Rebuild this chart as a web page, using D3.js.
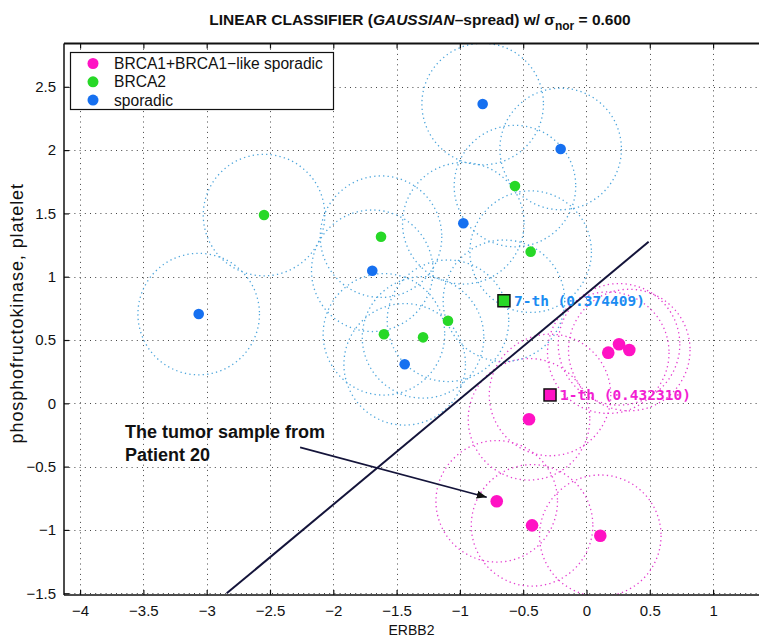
<!DOCTYPE html>
<html>
<head>
<meta charset="utf-8">
<script src="https://cdn.jsdelivr.net/npm/d3@7"></script>
<style>
  body { margin: 0; background: #fff; }
  svg { display: block; font-family: "Liberation Sans", Arial, Helvetica, sans-serif; }
</style>
</head>
<body>
<svg id="chart" width="759" height="637"></svg>
<script>
// BRCA1 + BRCA1-like sporadic tumours (ERBB2, phosphofructokinase platelet)
const brca1X = [0.172, 0.257, 0.338, -0.454, -0.709, -0.430, 0.109];
const brca1Y = [0.400, 0.466, 0.421, -0.126, -0.774, -0.964, -1.046];
// BRCA2 tumours
const brca2X = [-2.547, -1.623, -0.565, -0.441, -1.094, -1.291, -1.600];
const brca2Y = [1.487, 1.316, 1.716, 1.198, 0.652, 0.521, 0.545];
// sporadic tumours
const sporX = [-3.063, -0.820, -0.204, -0.973, -1.692, -1.436];
const sporY = [0.705, 2.364, 2.009, 1.422, 1.047, 0.308];

// ranked neighbours of the test sample, with their weights
const nbLabels = ["7-th (0.374409)", "1-th (0.432310)"];
const nbX = [-0.652, -0.288];
const nbY = [0.810, 0.066];
const nbClass = ["BRCA2", "BRCA1"];

// decision boundary of the linear classifier
const boundaryX = [-2.842, 0.491];
const boundaryY = [-1.501, 1.276];

// gaussian spread drawn round each sample (data units)
const spreadRadius = 0.48;

// annotation: the test tumour
const noteLines = ["The tumor sample from", "Patient 20"];
const noteX = -3.646, noteY = -0.276;
const arrowFrom = [-2.262, -0.348];
const arrowTo = [-0.788, -0.742];

// axes
const xTicks = [-4, -3.5, -3, -2.5, -2, -1.5, -1, -0.5, 0, 0.5, 1];
const yTicks = [-1.5, -1, -0.5, 0, 0.5, 1, 1.5, 2, 2.5];
const xDomain = [-4.127, 1.3626];
const yDomain = [-1.514, 2.842];
const legendLabels = ["BRCA1+BRCA1\u2212like sporadic", "BRCA2", "sporadic"];
const classes = ["BRCA1", "BRCA2", "sporadic"];

const colors = { BRCA1: "#ff12c4", BRCA2: "#27d827", sporadic: "#1670f0" };
const spreadColors = { BRCA1: "#e43ccf", other: "#4ea6dc" };
const labelColors = { BRCA1: "#f21ed2", BRCA2: "#1b8cf2" };

const plot = { left: 64, right: 759, top: 43.5, bottom: 595 };

const svg = d3.select("#chart");
const x = d3.scaleLinear().domain(xDomain).range([plot.left, plot.right]);
const y = d3.scaleLinear().domain(yDomain).range([plot.bottom, plot.top]);
const rPx = x(spreadRadius) - x(0);

svg.append("defs").append("clipPath").attr("id", "clip")
  .append("rect")
  .attr("x", plot.left).attr("y", plot.top)
  .attr("width", plot.right - plot.left + 5).attr("height", plot.bottom - plot.top);

// dotted grid
const grid = svg.append("g").attr("stroke", "#444").attr("stroke-width", 1)
  .attr("stroke-dasharray", "1 4.2");
grid.selectAll("line.gx").data(xTicks).join("line").attr("class", "gx")
  .attr("x1", d => Math.round(x(d)) + 0.5).attr("x2", d => Math.round(x(d)) + 0.5)
  .attr("y1", plot.top).attr("y2", plot.bottom);
grid.selectAll("line.gy").data(yTicks).join("line").attr("class", "gy")
  .attr("y1", d => Math.round(y(d)) + 0.5).attr("y2", d => Math.round(y(d)) + 0.5)
  .attr("x1", plot.left).attr("x2", plot.right);

// all samples
const samples = [];
brca1X.forEach((v, i) => samples.push({ cls: "BRCA1", x: v, y: brca1Y[i] }));
brca2X.forEach((v, i) => samples.push({ cls: "BRCA2", x: v, y: brca2Y[i] }));
sporX.forEach((v, i) => samples.push({ cls: "sporadic", x: v, y: sporY[i] }));
const neighbours = nbX.map((v, i) => ({ cls: nbClass[i], x: v, y: nbY[i], label: nbLabels[i] }));

// spread circles
const body = svg.append("g").attr("clip-path", "url(#clip)");
body.selectAll("circle.spread").data(samples.concat(neighbours)).join("circle")
  .attr("class", "spread")
  .attr("cx", d => x(d.x)).attr("cy", d => y(d.y)).attr("r", rPx)
  .attr("fill", "none")
  .attr("stroke", d => d.cls === "BRCA1" ? spreadColors.BRCA1 : spreadColors.other)
  .attr("stroke-width", 1.3)
  .attr("stroke-dasharray", "1.3 3.2");

// decision boundary
body.append("line")
  .attr("x1", x(boundaryX[0])).attr("y1", y(boundaryY[0]))
  .attr("x2", x(boundaryX[1])).attr("y2", y(boundaryY[1]))
  .attr("stroke", "#14143a").attr("stroke-width", 2);

// sample markers
body.selectAll("circle.pt").data(samples).join("circle")
  .attr("class", "pt")
  .attr("cx", d => x(d.x)).attr("cy", d => y(d.y))
  .attr("r", d => d.cls === "BRCA1" ? 6.3 : 5.3)
  .attr("fill", d => colors[d.cls]);

// highlighted neighbours
const nb = svg.append("g");
nb.selectAll("rect").data(neighbours).join("rect")
  .attr("x", d => x(d.x) - 6).attr("y", d => y(d.y) - 6)
  .attr("width", 12).attr("height", 12)
  .attr("fill", d => colors[d.cls]).attr("stroke", "#111").attr("stroke-width", 1.5);
nb.selectAll("text").data(neighbours).join("text")
  .attr("x", d => x(d.x) + 10).attr("y", d => y(d.y) + 5.5)
  .attr("font-family", "'DejaVu Sans Mono', monospace")
  .attr("font-weight", "bold").attr("font-size", 14.5)
  .attr("fill", d => labelColors[d.cls])
  .text(d => d.label);

// annotation with arrow
svg.append("defs").append("marker").attr("id", "head")
  .attr("viewBox", "0 0 10 10").attr("refX", 10).attr("refY", 5)
  .attr("markerWidth", 10).attr("markerHeight", 10).attr("markerUnits", "userSpaceOnUse")
  .attr("orient", "auto")
  .append("path").attr("d", "M0,1 L10,5 L0,9 Z").attr("fill", "#111");
svg.append("line")
  .attr("x1", x(arrowFrom[0])).attr("y1", y(arrowFrom[1]))
  .attr("x2", x(arrowTo[0])).attr("y2", y(arrowTo[1]))
  .attr("stroke", "#14143a").attr("stroke-width", 1.6)
  .attr("marker-end", "url(#head)");
svg.append("text")
  .attr("x", x(noteX)).attr("y", y(noteY))
  .attr("font-weight", "bold").attr("font-size", 18).attr("fill", "#111")
  .selectAll("tspan").data(noteLines).join("tspan")
  .attr("x", x(noteX)).attr("dy", (d, i) => i === 0 ? 0 : 22.5)
  .text(d => d);

// axes (ticks point inward)
const fmt = d3.format("~g");
const gx = svg.append("g").attr("transform", `translate(0,${plot.bottom})`)
  .call(d3.axisBottom(x).tickValues(xTicks).tickFormat(fmt).tickSize(-5).tickSizeOuter(0).tickPadding(10));
const gxTop = svg.append("g").attr("transform", `translate(0,${plot.top})`)
  .call(d3.axisTop(x).tickValues(xTicks).tickFormat("").tickSize(-5).tickSizeOuter(0));
const gy = svg.append("g").attr("transform", `translate(${plot.left},0)`)
  .call(d3.axisLeft(y).tickValues(yTicks).tickFormat(fmt).tickSize(-5).tickSizeOuter(0).tickPadding(8));
[gx, gxTop, gy].forEach(g => {
  g.select(".domain").remove();
  g.selectAll("line").attr("stroke", "#111").attr("stroke-width", 1.2);
  g.selectAll("text").attr("font-size", 15).attr("fill", "#111")
    .attr("font-family", "'Liberation Sans', Arial, sans-serif");
});

// frame
const frame = svg.append("g").attr("stroke", "#111");
frame.append("line").attr("x1", plot.left).attr("x2", plot.right + 1)
  .attr("y1", plot.top).attr("y2", plot.top).attr("stroke-width", 2);
frame.append("line").attr("x1", plot.left).attr("x2", plot.right + 1)
  .attr("y1", plot.bottom).attr("y2", plot.bottom).attr("stroke-width", 1.5);
frame.append("line").attr("x1", plot.left).attr("x2", plot.left)
  .attr("y1", plot.top).attr("y2", plot.bottom).attr("stroke-width", 1.5);

// axis labels
svg.append("text")
  .attr("x", (plot.left + plot.right) / 2).attr("y", 634.5)
  .attr("text-anchor", "middle").attr("font-size", 14).attr("fill", "#111")
  .text("ERBB2");
svg.append("text")
  .attr("transform", `translate(23,${(plot.top + plot.bottom) / 2 - 6}) rotate(-90)`)
  .attr("text-anchor", "middle").attr("font-size", 18).attr("letter-spacing", 0.9)
  .attr("fill", "#111")
  .text("phosphofructokinase, platelet");

// title
const title = svg.append("text")
  .attr("x", 420).attr("y", 25).attr("text-anchor", "middle")
  .attr("font-weight", "bold").attr("font-size", 15.5).attr("fill", "#111");
title.append("tspan").text("LINEAR CLASSIFIER (");
title.append("tspan").attr("font-style", "italic").text("GAUSSIAN");
title.append("tspan").text("\u2013spread) w/ \u03c3");
title.append("tspan").attr("font-size", 12).attr("dy", 5).text("nor");
title.append("tspan").attr("dy", -5).text(" = 0.600");

// legend
const lg = svg.append("g");
lg.append("rect").attr("x", 70.5).attr("y", 52.5).attr("width", 263).attr("height", 57)
  .attr("fill", "#fff").attr("stroke", "#111").attr("stroke-width", 1.2);
const rows = lg.selectAll("g.row").data(classes).join("g").attr("class", "row")
  .attr("transform", (d, i) => `translate(0,${63.5 + i * 18.3})`);
rows.append("circle").attr("cx", 93).attr("cy", 0).attr("r", 5.5).attr("fill", d => colors[d]);
rows.append("text").attr("x", 114).attr("y", 5.4).attr("font-size", 15.6).attr("fill", "#111")
  .text((d, i) => legendLabels[i]);
</script>
</body>
</html>
